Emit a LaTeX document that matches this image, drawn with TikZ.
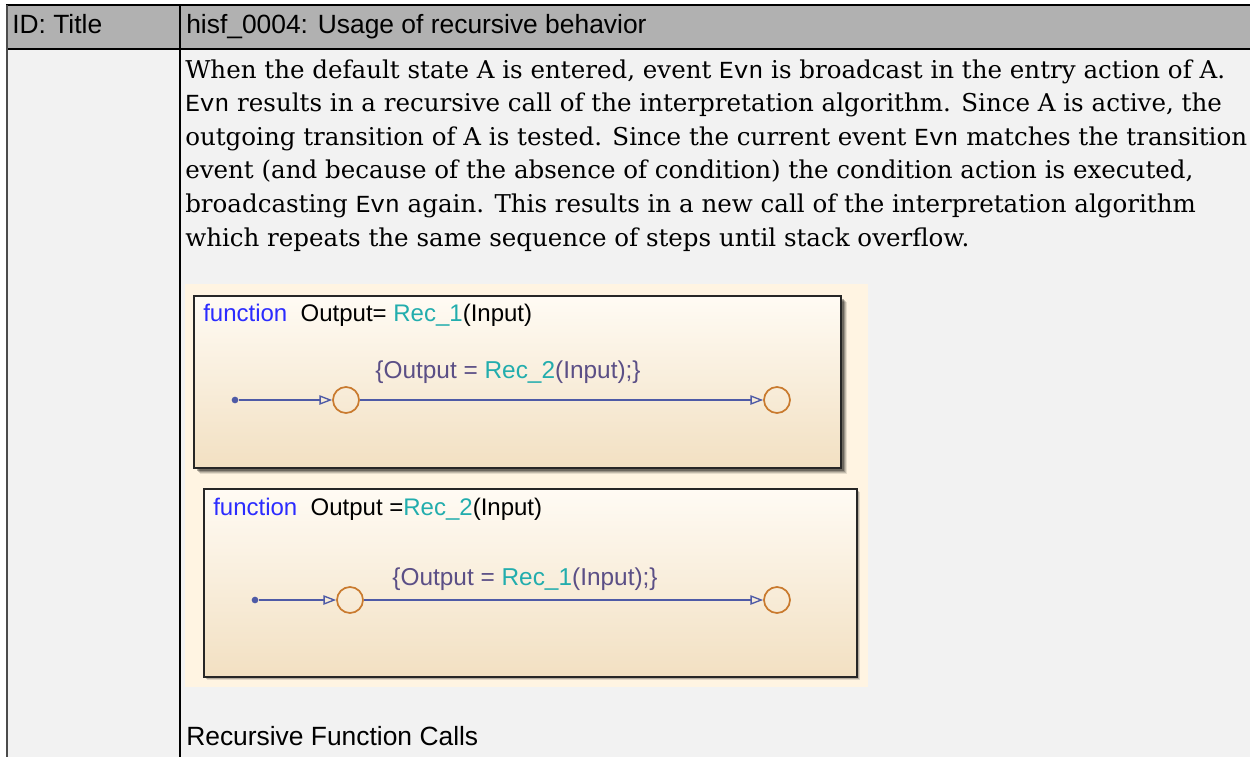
\documentclass[tikz,border=0pt]{standalone}
\usepackage{fontspec}
\setmainfont{DejaVu Serif}
\newfontfamily\hdrfont{Liberation Sans}
\newfontfamily\codefont{Liberation Mono}
\newfontfamily\chartfont{Liberation Sans}
\usetikzlibrary{arrows.meta}

\definecolor{hdrgrey}{HTML}{B1B1B1}
\definecolor{cellgrey}{HTML}{F2F2F2}
\definecolor{panelcream}{HTML}{FFF4E2}
\definecolor{boxtop}{HTML}{FFFBF4}
\definecolor{boxbot}{HTML}{F2E0C2}
\definecolor{kwblue}{HTML}{2B2BFF}
\definecolor{fnteal}{HTML}{22ADAD}
\definecolor{actslate}{HTML}{5B4F86}
\definecolor{transblue}{HTML}{4E5AA6}
\definecolor{junctorange}{HTML}{C97A2E}

\newcommand{\ev}{{\codefont Evn}}

\tikzset{
  hdr/.style={font=\hdrfont\fontsize{19.8}{22}\selectfont, anchor=base west, inner sep=0pt},
  bodyline/.style={font=\fontsize{18.4}{22}\selectfont, anchor=base west, inner sep=0pt},
  charttitle/.style={font=\chartfont\fontsize{18}{20}\selectfont, anchor=base west, inner sep=0pt},
  actionlbl/.style={font=\chartfont\fontsize{18.3}{20}\selectfont, text=actslate, anchor=base, inner sep=0pt},
  chartbox/.style={draw=black!85, line width=1.6pt},
  defaultdot/.style={circle, fill=transblue, minimum size=5pt, inner sep=0pt},
  junction/.style={circle, draw=junctorange, line width=1.3pt, minimum size=19.5pt, inner sep=0pt},
  trans/.style={draw=transblue, line width=1pt, -{Triangle[open, length=9.5pt, width=7pt]}},
}

\begin{document}
\begin{tikzpicture}[x=0.75pt, y=-0.75pt]
\useasboundingbox (0,0) rectangle (1250,757);
\fill[white] (0,0) rectangle (1250,757);

% table: header row, body cell, rules
\fill[hdrgrey] (7,5) rectangle (1250,49);
\fill[cellgrey] (7,49) rectangle (1250,757);
\draw[line width=1.2pt] (6,5) -- (1250,5);
\draw[line width=1pt] (7,49) -- (1250,49);
\draw[line width=1.4pt, black!70] (7,5) -- (7,757);
\draw[line width=0.9pt] (180,5) -- (180,757);

\node[hdr] (idtitle) at (12,33) {ID: Title};
\node[hdr] (ruletitle) at (186,33) {hisf\_0004: Usage of recursive behavior};

% description
\node[bodyline] (l1) at (185,78)    {When the default state A is entered, event \ev{} is broadcast in the entry action of A.};
\node[bodyline] (l2) at (185,111.6) {\ev{} results in a recursive call of the interpretation algorithm. Since A is active, the};
\node[bodyline] (l3) at (185,145.2) {outgoing transition of A is tested. Since the current event \ev{} matches the transition};
\node[bodyline] (l4) at (185,178.8) {event (and because of the absence of condition) the condition action is executed,};
\node[bodyline] (l5) at (185,212.4) {broadcasting \ev{} again. This results in a new call of the interpretation algorithm};
\node[bodyline] (l6) at (185,246)   {which repeats the same sequence of steps until stack overflow.};

% chart screenshot panel
\fill[panelcream] (185,284) rectangle (868,687);

% first chart, with drop shadow
\foreach \o/\a in {6/0.10, 5/0.15, 4/0.2, 3/0.3} {
  \fill[black, opacity=\a] (194+\o,296+\o) rectangle (841+\o,468+\o);
}
\shade[top color=boxtop, bottom color=boxbot] (194,296) rectangle (841,468);
\draw[chartbox] (194,296) rectangle (841,468);
\node[charttitle] (f1) at (203,321) {\textcolor{kwblue}{function}\ \ Output= \textcolor{fnteal}{Rec\_1}(Input)};

\node[defaultdot] (d1) at (235,400) {};
\node[junction] (j1a) at (346,400) {};
\node[junction] (j1b) at (777,400) {};
\draw[trans] (d1) -- (j1a);
\draw[trans] (j1a) -- (j1b);
\node[actionlbl] (a1) at (508,378) {\{Output = \textcolor{fnteal}{Rec\_2}(Input);\}};

% second chart
\foreach \o/\a in {3/0.12, 2/0.2} {
  \fill[black, opacity=\a] (204+\o,489+\o) rectangle (857+\o,677+\o);
}
\shade[top color=boxtop, bottom color=boxbot] (204,489) rectangle (857,677);
\draw[chartbox] (204,489) rectangle (857,677);
\node[charttitle] (f2) at (213,515) {\textcolor{kwblue}{function}\ \ Output =\textcolor{fnteal}{Rec\_2}(Input)};

\node[defaultdot] (d2) at (255,600) {};
\node[junction] (j2a) at (350,600) {};
\node[junction] (j2b) at (777,600) {};
\draw[trans] (d2) -- (j2a);
\draw[trans] (j2a) -- (j2b);
\node[actionlbl] (a2) at (525,585) {\{Output = \textcolor{fnteal}{Rec\_1}(Input);\}};

% caption
\node[hdr] (caption) at (186,745) {Recursive Function Calls};
\end{tikzpicture}
\end{document}
